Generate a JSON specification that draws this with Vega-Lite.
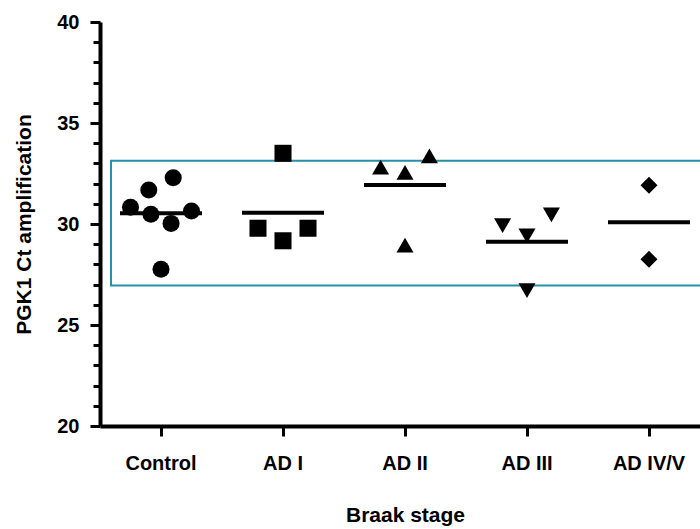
{
  "$schema": "https://vega.github.io/schema/vega-lite/v6.json",
  "width": 610,
  "height": 404,
  "autosize": "none",
  "padding": {"left": 100, "top": 22, "right": 0, "bottom": 103},
  "background": "white",
  "config": {
    "view": {"stroke": null},
    "font": "Liberation Sans"
  },
  "resolve": {"axis": {"y": "independent"}},
  "datasets": {
    "points": [
      {"stage": "Control", "ct": 32.29, "jitter": 0.4},
      {"stage": "Control", "ct": 31.68, "jitter": -0.4},
      {"stage": "Control", "ct": 30.83, "jitter": -1},
      {"stage": "Control", "ct": 30.48, "jitter": -0.33},
      {"stage": "Control", "ct": 30.64, "jitter": 1},
      {"stage": "Control", "ct": 30.03, "jitter": 0.33},
      {"stage": "Control", "ct": 27.76, "jitter": 0},
      {"stage": "AD I", "ct": 33.5, "jitter": 0},
      {"stage": "AD I", "ct": 29.79, "jitter": -0.82},
      {"stage": "AD I", "ct": 29.17, "jitter": 0},
      {"stage": "AD I", "ct": 29.79, "jitter": 0.82},
      {"stage": "AD II", "ct": 32.81, "jitter": -0.8},
      {"stage": "AD II", "ct": 32.56, "jitter": 0},
      {"stage": "AD II", "ct": 33.37, "jitter": 0.8},
      {"stage": "AD II", "ct": 28.96, "jitter": 0},
      {"stage": "AD III", "ct": 29.92, "jitter": -0.8},
      {"stage": "AD III", "ct": 29.41, "jitter": 0},
      {"stage": "AD III", "ct": 30.45, "jitter": 0.8},
      {"stage": "AD III", "ct": 26.7, "jitter": 0},
      {"stage": "AD IV/V", "ct": 31.92, "jitter": 0},
      {"stage": "AD IV/V", "ct": 28.25, "jitter": 0}
    ],
    "band": [
      {"from": "Control", "to": "AD IV/V", "lo": 26.95, "hi": 33.13}
    ]
  },
  "layer": [
    {
      "data": {"name": "band"},
      "mark": {"type": "rect", "fill": null, "stroke": "#2590a8", "strokeWidth": 2},
      "encoding": {
        "x": {"field": "from", "type": "nominal", "bandPosition": 0.09,
              "scale": {"domain": ["Control", "AD I", "AD II", "AD III", "AD IV/V"], "paddingInner": 0, "paddingOuter": 0},
              "axis": {
                "title": "Braak stage",
                "labelAngle": 0,
                "labelFont": "Liberation Sans", "labelFontWeight": "bold", "labelFontSize": 20, "labelColor": "black",
                "labelPadding": 17,
                "domainColor": "black", "domainWidth": 4,
                "tickColor": "black", "tickWidth": 3, "tickSize": 10,
                "titleFont": "Liberation Sans", "titleFontWeight": "bold", "titleFontSize": 21, "titleColor": "black",
                "titlePadding": 31
              }},
        "x2": {"field": "to", "bandPosition": 1.0},
        "y": {"field": "lo", "type": "quantitative",
              "scale": {"domain": [20, 40], "nice": false, "zero": false},
              "axis": {
                "title": "PGK1 Ct amplification",
                "orient": "left",
                "values": [20, 25, 30, 35, 40],
                "labelFont": "Liberation Sans", "labelFontWeight": "bold", "labelFontSize": 20, "labelColor": "black",
                "labelPadding": 11,
                "labelOverlap": false,
                "grid": false,
                "domainColor": "black", "domainWidth": 4,
                "tickColor": "black", "tickWidth": 3, "tickSize": 10,
                "titleFont": "Liberation Sans", "titleFontWeight": "bold", "titleFontSize": 21, "titleColor": "black",
                "titlePadding": 22
              }},
        "y2": {"field": "hi"}
      }
    },
    {
      "data": {"name": "points"},
      "mark": {"type": "point", "filled": true, "opacity": 1, "color": "black"},
      "encoding": {
        "x": {"field": "stage", "type": "nominal"},
        "xOffset": {"field": "jitter", "type": "quantitative", "scale": {"domain": [-2, 2]}},
        "y": {"field": "ct", "type": "quantitative", "axis": null},
        "shape": {"field": "stage", "type": "nominal", "legend": null,
                  "scale": {"domain": ["Control", "AD I", "AD II", "AD III", "AD IV/V"],
                            "range": ["circle", "square", "triangle-up", "triangle-down", "diamond"]}},
        "size": {"field": "stage", "type": "nominal", "legend": null,
                 "scale": {"domain": ["Control", "AD I", "AD II", "AD III", "AD IV/V"],
                           "range": [290, 290, 330, 330, 300]}}
      }
    },
    {
      "data": {"name": "points"},
      "mark": {"type": "tick", "orient": "horizontal", "size": 82, "thickness": 4, "color": "black", "opacity": 1},
      "encoding": {
        "x": {"field": "stage", "type": "nominal"},
        "y": {"aggregate": "mean", "field": "ct", "type": "quantitative",
              "axis": {
                "orient": "left",
                "title": null,
                "labels": false,
                "domain": false,
                "grid": false,
                "values": [21, 22, 23, 24, 26, 27, 28, 29, 31, 32, 33, 34, 36, 37, 38, 39],
                "tickColor": "black", "tickWidth": 3, "tickSize": 7
              }}
      }
    }
  ]
}
